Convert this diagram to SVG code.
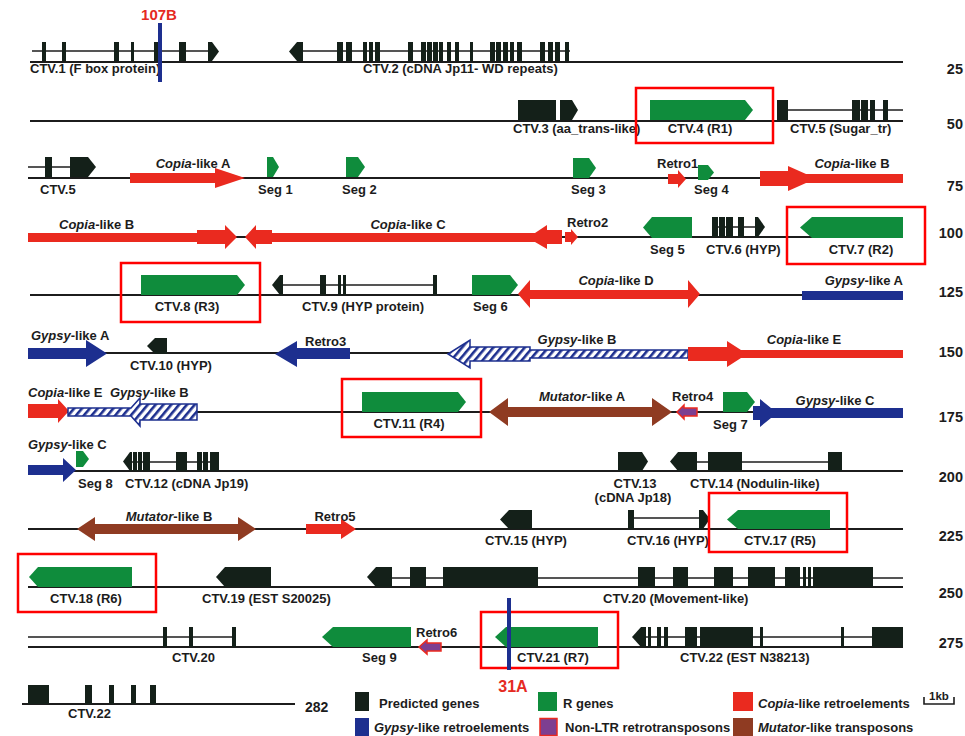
<svg xmlns="http://www.w3.org/2000/svg" width="965" height="736" viewBox="0 0 965 736">
<defs>
<pattern id="hatch" patternUnits="userSpaceOnUse" width="6" height="6" patternTransform="rotate(40)">
<rect width="6" height="6" fill="#fff"/>
<rect x="0" y="0" width="2.6" height="6" fill="#1d2f8f"/>
</pattern>
</defs>
<style>
text{font-family:"Liberation Sans",Arial,Helvetica,sans-serif;font-weight:bold;font-size:13px;fill:#1c1c1c}
.i{font-style:italic}
.c{text-anchor:middle}
.e{text-anchor:end}
.n{font-size:14.5px;text-anchor:end}
.g{fill:#0f8c3c}
.k{fill:#142019}
.r{fill:#ea2a1f}
.b{fill:#1d2f8f}
.m{fill:#8f3b22}
.p{fill:#7d3f91;stroke:#ea2a1f;stroke-width:1.5}
.h{fill:url(#hatch);stroke:#1d2f8f;stroke-width:1.5}
.box{fill:none;stroke:#ff0000;stroke-width:2.5}
.tr{stroke:#1c1c1c;stroke-width:2;fill:none}
.in{stroke:#1c1c1c;stroke-width:1.6;fill:none}
.mk{stroke:#1d2f8f;stroke-width:4}
.red{fill:#e52a22;font-size:15px}
</style>
<rect width="965" height="736" fill="#fff"/>

<g id="tracks">
<line class="tr" x1="30" y1="62" x2="903" y2="62"/>
<line class="tr" x1="30" y1="121" x2="903" y2="121"/>
<line class="tr" x1="28" y1="178" x2="903" y2="178"/>
<line class="tr" x1="28" y1="237" x2="903" y2="237"/>
<line class="tr" x1="30" y1="295" x2="903" y2="295"/>
<line class="tr" x1="28" y1="353" x2="903" y2="353"/>
<line class="tr" x1="28" y1="412" x2="903" y2="412"/>
<line class="tr" x1="28" y1="471" x2="903" y2="471"/>
<line class="tr" x1="28" y1="529" x2="903" y2="529"/>
<line class="tr" x1="28" y1="587" x2="903" y2="587"/>
<line class="tr" x1="28" y1="647" x2="903" y2="647"/>
<line class="tr" x1="22" y1="704" x2="295" y2="704"/>
</g>

<g id="scale-labels">
<text class="n" x="963" y="74">25</text>
<text class="n" x="963" y="129">50</text>
<text class="n" x="963" y="191">75</text>
<text class="n" x="963" y="238">100</text>
<text class="n" x="963" y="297">125</text>
<text class="n" x="963" y="357">150</text>
<text class="n" x="963" y="422">175</text>
<text class="n" x="963" y="482">200</text>
<text class="n" x="963" y="541">225</text>
<text class="n" x="963" y="598">250</text>
<text class="n" x="963" y="648">275</text>
<text x="305" y="712" style="font-size:14px">282</text>
</g>

<!-- Row 1 -->
<g id="ctv1">
<line class="in" x1="32" y1="51" x2="212" y2="51"/>
<g class="k">
<rect x="42" y="42" width="4" height="19"/><rect x="62" y="42" width="4" height="19"/>
<rect x="114" y="42" width="5" height="19"/><rect x="131" y="42" width="3" height="19"/>
<rect x="154" y="42" width="5" height="19"/><rect x="179" y="42" width="7" height="19"/>
<polygon points="208,42 212,42 219,51.5 212,61 208,61"/>
</g>
<text x="30" y="73">CTV.1 (F box protein)</text>
</g>
<g id="m107B">
<line class="mk" x1="160" y1="23" x2="160" y2="82"/>
<text class="c red" x="159" y="20">107B</text>
</g>
<g id="ctv2">
<line class="in" x1="300" y1="51" x2="570" y2="51"/>
<g class="k">
<polygon points="289,51.5 297,42 303,42 303,61 297,61"/>
<rect x="337" y="42" width="6" height="19"/><rect x="346" y="42" width="6" height="19"/>
<rect x="363" y="42" width="4" height="19"/><rect x="369" y="42" width="4" height="19"/>
<rect x="375" y="42" width="5" height="19"/><rect x="408" y="42" width="5" height="19"/>
<rect x="421" y="42" width="5" height="19"/><rect x="427" y="42" width="5" height="19"/>
<rect x="433" y="42" width="5" height="19"/><rect x="439" y="42" width="4" height="19"/>
<rect x="447" y="42" width="4" height="19"/><rect x="455" y="42" width="4" height="19"/>
<rect x="470" y="42" width="3" height="19"/><rect x="490" y="42" width="5" height="19"/>
<rect x="496" y="42" width="5" height="19"/><rect x="503" y="42" width="5" height="19"/>
<rect x="510" y="42" width="4" height="19"/><rect x="517" y="42" width="5" height="19"/>
<rect x="540" y="42" width="5" height="19"/><rect x="548" y="42" width="5" height="19"/>
<rect x="555" y="42" width="5" height="19"/><rect x="565" y="42" width="4" height="19"/>
</g>
<text x="363" y="73">CTV.2 (cDNA Jp11- WD repeats)</text>
</g>

<!-- Row 2 -->
<g id="ctv3">
<rect class="k" x="518" y="100" width="38" height="20"/>
<polygon class="k" points="560,100 572,100 578,110 572,120 560,120"/>
<text x="513" y="133">CTV.3 (aa_trans-like)</text>
</g>
<g id="ctv4">
<polygon class="g" points="650,100 745,100 753,110 745,120 650,120"/>
<text class="c" x="700" y="133">CTV.4 (R1)</text>
<rect class="box" x="636" y="88" width="137" height="55"/>
</g>
<g id="ctv5a">
<line class="in" x1="788" y1="110" x2="903" y2="110"/>
<g class="k">
<rect x="777" y="100" width="11" height="20"/>
<rect x="852" y="100" width="8" height="20"/><rect x="861" y="100" width="7" height="20"/>
<rect x="870" y="100" width="5" height="20"/><rect x="883" y="100" width="5" height="20"/>
</g>
<text x="790" y="133">CTV.5 (Sugar_tr)</text>
</g>

<!-- Row 3 -->
<g id="ctv5b">
<line class="in" x1="28" y1="167" x2="90" y2="167"/>
<rect class="k" x="45" y="157" width="7" height="20"/>
<polygon class="k" points="70,157 88,157 96,167 88,177 70,177"/>
<text x="40" y="194">CTV.5</text>
</g>
<g id="copiaA">
<polygon class="r" points="130,173 215,173 215,168 245,178 215,188 215,183 130,183"/>
<text class="c" x="193" y="168"><tspan class="i">Copia</tspan>-like A</text>
</g>
<g id="seg1">
<polygon class="g" points="267,157 273,157 279,167 273,177 267,177"/>
<text x="258" y="194">Seg 1</text>
</g>
<g id="seg2">
<polygon class="g" points="346,157 358,157 365,167 358,177 346,177"/>
<text x="342" y="194">Seg 2</text>
</g>
<g id="seg3">
<polygon class="g" points="573,158 589,158 596,168 589,178 573,178"/>
<text x="571" y="194">Seg 3</text>
</g>
<g id="retro1">
<polygon class="r" points="668,174 678,174 678,170 686,179 678,188 678,184 668,184"/>
<text x="657" y="168">Retro1</text>
</g>
<g id="seg4">
<polygon class="g" points="698,165 708,165 714,172.5 708,180 698,180"/>
<text x="694" y="194">Seg 4</text>
</g>
<g id="copiaB1">
<polygon class="r" points="760,171 788,171 788,166 806,174 903,174 903,183 806,183 788,191 788,186 760,186"/>
<text class="c" x="852" y="168"><tspan class="i">Copia</tspan>-like B</text>
</g>

<!-- Row 4 -->
<g id="copiaB2">
<polygon class="r" points="28,233 197,233 197,230 225,230 225,225 237,237 225,249 225,244 197,244 197,242 28,242"/>
<text x="59" y="229"><tspan class="i">Copia</tspan>-like B</text>
</g>
<g id="copiaC">
<polygon class="r" points="245,237 256,225 256,230 272,230 272,233 535,233 547,225 547,230 562,230 562,244 547,244 547,249 535,242 272,242 272,244 256,244 256,249"/>
<text class="c" x="408" y="229"><tspan class="i">Copia</tspan>-like C</text>
</g>
<g id="retro2">
<polygon class="r" points="565,232 571,232 571,229 578,237 571,245 571,242 565,242"/>
<text x="567" y="227">Retro2</text>
</g>
<g id="seg5">
<polygon class="g" points="643,227.5 652,217 692,217 692,238 652,238"/>
<text x="650" y="254">Seg 5</text>
</g>
<g id="ctv6">
<line class="in" x1="712" y1="227" x2="760" y2="227"/>
<g class="k">
<rect x="712" y="217" width="6" height="20"/><rect x="719" y="217" width="6" height="20"/>
<rect x="726" y="217" width="7" height="20"/><rect x="738" y="217" width="6" height="20"/>
<polygon points="755,217 758,217 765,227 758,237 755,237"/>
</g>
<text x="706" y="254">CTV.6 (HYP)</text>
</g>
<g id="ctv7">
<polygon class="g" points="800,227.5 812,217 903,217 903,238 812,238"/>
<text class="c" x="861" y="254">CTV.7 (R2)</text>
<rect class="box" x="787" y="207" width="138" height="57"/>
</g>

<!-- Row 5 -->
<g id="ctv8">
<polygon class="g" points="141,275 237,275 245,285 237,295 141,295"/>
<text class="c" x="187" y="311">CTV.8 (R3)</text>
<rect class="box" x="121" y="263" width="139" height="59"/>
</g>
<g id="ctv9">
<line class="in" x1="283" y1="285" x2="435" y2="285"/>
<g class="k">
<polygon points="272,285 280,275 283,275 283,295 280,295"/>
<rect x="320" y="275" width="6" height="20"/><rect x="338" y="275" width="3" height="20"/>
<rect x="343" y="275" width="3" height="20"/><rect x="433" y="275" width="4" height="20"/>
</g>
<text x="302" y="311">CTV.9 (HYP protein)</text>
</g>
<g id="seg6">
<polygon class="g" points="472,275 510,275 518,285 510,295 472,295"/>
<text x="473" y="311">Seg 6</text>
</g>
<g id="copiaD">
<polygon class="r" points="518,294 530,280 530,290 688,290 688,280 700,294 688,308 688,299 530,299 530,308"/>
<text class="c" x="616" y="285"><tspan class="i">Copia</tspan>-like D</text>
</g>
<g id="gypsyA1">
<rect class="b" x="802" y="291" width="101" height="9"/>
<text class="e" x="903" y="285"><tspan class="i">Gypsy</tspan>-like A</text>
</g>

<!-- Row 6 -->
<g id="gypsyA2">
<polygon class="b" points="28,348 86,348 86,340 107,353.5 86,367 86,359 28,359"/>
<text x="31" y="340"><tspan class="i">Gypsy</tspan>-like A</text>
</g>
<g id="ctv10">
<polygon class="k" points="147,346 155,338 167,338 167,354 155,354"/>
<text x="130" y="370">CTV.10 (HYP)</text>
</g>
<g id="retro3">
<polygon class="b" points="275,354 297,341 297,348 350,348 350,359 297,359 297,367"/>
<text x="305" y="346">Retro3</text>
</g>
<g id="gypsyB1">
<polygon class="h" points="448,354 470,340 470,347 530,347 530,350 688,350 688,358 530,358 530,361 470,361 470,368"/>
<text class="c" x="577" y="344"><tspan class="i">Gypsy</tspan>-like B</text>
</g>
<g id="copiaE1">
<polygon class="r" points="688,347 727,347 727,341 741,350 903,350 903,358 741,358 727,367 727,361 688,361"/>
<text class="c" x="804" y="344"><tspan class="i">Copia</tspan>-like E</text>
</g>

<!-- Row 7 -->
<g id="copiaE2">
<polygon class="r" points="28,404 58,404 58,399 69,411 58,423 58,418 28,418"/>
<text x="28" y="397"><tspan class="i">Copia</tspan>-like E</text>
</g>
<g id="gypsyB2">
<polygon class="h" points="68,408 131,408 140,398 140,404 197,404 197,420 140,420 140,426 131,416 68,416"/>
<text x="110" y="397"><tspan class="i">Gypsy</tspan>-like B</text>
</g>
<g id="ctv11">
<polygon class="g" points="362,392 458,392 466,402 458,412 362,412"/>
<text class="c" x="409" y="428">CTV.11 (R4)</text>
<rect class="box" x="342" y="379" width="139" height="58"/>
</g>
<g id="mutatorA">
<polygon class="m" points="489,412 508,398 508,407 652,407 652,398 672,412 652,426 652,417 508,417 508,426"/>
<text class="c" x="582" y="401"><tspan class="i">Mutator</tspan>-like A</text>
</g>
<g id="retro4">
<polygon class="p" points="677,412 684,405 684,408 697,408 697,416 684,416 684,419"/>
<text x="672" y="401">Retro4</text>
</g>
<g id="seg7">
<polygon class="g" points="723,392 747,392 755,402 747,412 723,412"/>
<text x="713" y="429">Seg 7</text>
</g>
<g id="gypsyC1">
<polygon class="b" points="753,406 760,406 760,399 771,408 903,408 903,418 771,418 760,427 760,420 753,420"/>
<text class="c" x="835" y="405"><tspan class="i">Gypsy</tspan>-like C</text>
</g>

<!-- Row 8 -->
<g id="gypsyC2">
<polygon class="b" points="28,465 63,465 63,458 76,470 63,482 63,475 28,475"/>
<text x="28" y="449"><tspan class="i">Gypsy</tspan>-like C</text>
</g>
<g id="seg8">
<polygon class="g" points="76,451 83,451 89,459 83,467 76,467"/>
<text x="78" y="488">Seg 8</text>
</g>
<g id="ctv12">
<line class="in" x1="132" y1="462" x2="219" y2="462"/>
<g class="k">
<polygon points="123,461.5 130,452 132,452 132,471 130,471"/>
<rect x="133" y="452" width="4" height="19"/><rect x="138" y="452" width="4" height="19"/>
<rect x="143" y="452" width="7" height="19"/><rect x="176" y="452" width="11" height="19"/>
<rect x="197" y="452" width="5" height="19"/><rect x="203" y="452" width="5" height="19"/>
<rect x="210" y="452" width="9" height="19"/>
</g>
<text x="125" y="488">CTV.12 (cDNA Jp19)</text>
</g>
<g id="ctv13">
<polygon class="k" points="618,452 642,452 648,461.5 642,471 618,471"/>
<text class="c" x="635" y="488">CTV.13</text>
<text class="c" x="633" y="502">(cDNA Jp18)</text>
</g>
<g id="ctv14">
<line class="in" x1="697" y1="462" x2="829" y2="462"/>
<g class="k">
<polygon points="670,461.5 678,452 697,452 697,471 678,471"/>
<rect x="708" y="452" width="34" height="19"/>
<rect x="828" y="452" width="14" height="19"/>
</g>
<text x="690" y="488">CTV.14 (Nodulin-like)</text>
</g>

<!-- Row 9 -->
<g id="mutatorB">
<polygon class="m" points="77,529 95,517 95,524 238,524 238,517 256,529 238,541 238,534 95,534 95,541"/>
<text class="c" x="169" y="521"><tspan class="i">Mutator</tspan>-like B</text>
</g>
<g id="retro5">
<polygon class="r" points="306,524 341,524 341,519 356,529 341,539 341,534 306,534"/>
<text class="c" x="335" y="521">Retro5</text>
</g>
<g id="ctv15">
<polygon class="k" points="500,519.5 509,510 532,510 532,529 509,529"/>
<text x="485" y="545">CTV.15 (HYP)</text>
</g>
<g id="ctv16">
<line class="in" x1="634" y1="518" x2="700" y2="518"/>
<g class="k">
<rect x="628" y="510" width="6" height="19"/>
<polygon points="699,510 703,510 710,519 703,529 699,529"/>
</g>
<text x="627" y="545">CTV.16 (HYP)</text>
</g>
<g id="ctv17">
<polygon class="g" points="727,519.5 738,510 830,510 830,529 738,529"/>
<text class="c" x="780" y="545">CTV.17 (R5)</text>
<rect class="box" x="709" y="493" width="138" height="59"/>
</g>

<!-- Row 10 -->
<g id="ctv18">
<polygon class="g" points="29,577 38,567 132,567 132,587 38,587"/>
<text class="c" x="86" y="603">CTV.18 (R6)</text>
<rect class="box" x="18" y="554" width="138" height="58"/>
</g>
<g id="ctv19">
<polygon class="k" points="216,577 225,567 271,567 271,587 225,587"/>
<text x="202" y="603">CTV.19 (EST S20025)</text>
</g>
<g id="ctv20a">
<line class="in" x1="392" y1="578" x2="903" y2="578"/>
<g class="k">
<polygon points="367,577 376,567 392,567 392,587 376,587"/>
<rect x="410" y="567" width="16" height="20"/>
<rect x="443" y="567" width="95" height="20"/>
<rect x="638" y="567" width="17" height="20"/>
<rect x="673" y="567" width="15" height="20"/>
<rect x="714" y="567" width="19" height="20"/>
<rect x="748" y="567" width="27" height="20"/>
<rect x="785" y="567" width="15" height="20"/>
<rect x="803" y="567" width="3" height="20"/>
<rect x="808" y="567" width="3" height="20"/>
<rect x="813" y="567" width="60" height="20"/>
</g>
<text x="603" y="603">CTV.20 (Movement-like)</text>
</g>

<!-- Row 11 -->
<g id="ctv20b">
<line class="in" x1="28" y1="637" x2="235" y2="637"/>
<g class="k">
<rect x="163" y="627" width="4" height="20"/>
<rect x="189" y="627" width="4" height="20"/>
<rect x="232" y="627" width="4" height="20"/>
</g>
<text x="172" y="662">CTV.20</text>
</g>
<g id="seg9">
<polygon class="g" points="322,637 333,627 411,627 411,647 333,647"/>
<text x="362" y="662">Seg 9</text>
</g>
<g id="retro6">
<polygon class="p" points="419,647 427,640 427,643 441,643 441,651 427,651 427,654"/>
<text x="416" y="637">Retro6</text>
</g>
<g id="ctv21">
<polygon class="g" points="495,637 506,627 598,627 598,647 506,647"/>
<text x="517" y="662">CTV.21 (R7)</text>
<rect class="box" x="481" y="612" width="137" height="56"/>
</g>
<g id="m31A">
<line class="mk" x1="509" y1="598" x2="509" y2="670"/>
<text class="c red" x="513" y="692" style="font-size:16px">31A</text>
</g>
<g id="ctv22a">
<line class="in" x1="645" y1="637" x2="903" y2="637"/>
<g class="k">
<polygon points="632,637 641,627 646,627 646,647 641,647"/>
<rect x="648" y="627" width="3" height="20"/>
<rect x="657" y="627" width="4" height="20"/>
<rect x="664" y="627" width="4" height="20"/>
<rect x="685" y="627" width="12" height="20"/>
<rect x="700" y="627" width="53" height="20"/>
<rect x="760" y="627" width="3" height="20"/>
<rect x="841" y="627" width="3" height="20"/>
<rect x="872" y="627" width="31" height="20"/>
</g>
<text x="680" y="662">CTV.22 (EST N38213)</text>
</g>

<!-- Row 12 -->
<g id="ctv22b">
<g class="k">
<rect x="28" y="685" width="21" height="19"/>
<rect x="85" y="685" width="7" height="19"/>
<rect x="109" y="685" width="5" height="19"/>
<rect x="131" y="685" width="5" height="19"/>
<rect x="150" y="685" width="6" height="19"/>
</g>
<text x="68" y="718">CTV.22</text>
</g>

<!-- Legend -->
<g id="legend">
<rect class="k" x="355" y="692" width="14" height="19"/>
<text x="379" y="708">Predicted genes</text>
<rect class="b" x="355" y="718" width="14" height="18"/>
<text x="374" y="732"><tspan class="i">Gypsy</tspan>-like retroelements</text>
<rect class="g" x="538" y="692" width="19" height="19"/>
<text x="563" y="708">R genes</text>
<rect class="p" x="540" y="718.5" width="17" height="17"/>
<text x="565" y="732">Non-LTR retrotransposons</text>
<rect class="r" x="733" y="692" width="20" height="19"/>
<text x="758" y="708"><tspan class="i">Copia</tspan>-like retroelements</text>
<rect class="m" x="733" y="718" width="20" height="18"/>
<text x="758" y="732"><tspan class="i">Mutator</tspan>-like transposons</text>
</g>
<g id="scalebar">
<path d="M924,697 V704 H954 V697" fill="none" stroke="#1c1c1c" stroke-width="1.6"/>
<text class="c" x="939" y="700" style="font-size:11.5px">1kb</text>
</g>
</svg>
